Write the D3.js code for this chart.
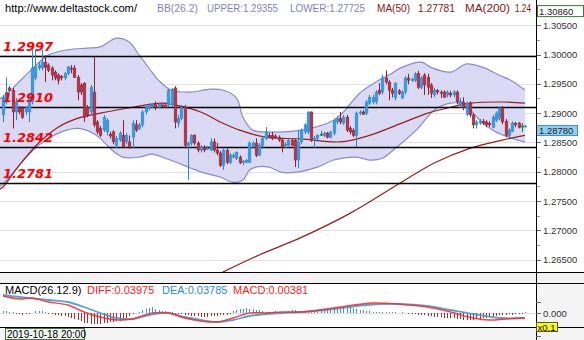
<!DOCTYPE html>
<html><head><meta charset="utf-8">
<script src="https://cdn.jsdelivr.net/npm/d3@7"></script>
<style>body{margin:0;background:#fff}svg{display:block}</style>
</head><body><svg id="c" width="584" height="340"></svg>
<script>
// ---------- DATA ----------
const opens=[1.2897,1.2919,1.2943,1.2939,1.2902,1.2909,1.2909,1.2902,1.2902,1.2919,
1.2960,1.2977,1.2977,1.2987,1.2982,1.2977,1.2970,1.2965,1.2963,1.2960,
1.2968,1.2977,1.2977,1.2961,1.2948,1.2951,1.2910,1.2902,1.2936,1.2885,
1.2874,1.2871,1.2868,1.2864,1.2868,1.2845,1.2854,1.2862,1.2851,1.2851,
1.2859,1.2880,1.2874,1.2880,1.2902,1.2909,1.2912,1.2917,1.2910,1.2914,
1.2914,1.2914,1.2914,1.2943,1.2883,1.2891,1.2910,1.2845,1.2849,1.2862,
1.2849,1.2837,1.2842,1.2839,1.2837,1.2851,1.2837,1.2832,1.2811,1.2837,
1.2816,1.2825,1.2823,1.2825,1.2816,1.2816,1.2816,1.2844,1.2849,1.2828,
1.2845,1.2857,1.2862,1.2862,1.2861,1.2859,1.2854,1.2845,1.2845,1.2854,
1.2854,1.2820,1.2851,1.2868,1.2868,1.2902,1.2854,1.2857,1.2864,1.2862,
1.2866,1.2859,1.2866,1.2885,1.2891,1.2883,1.2893,1.2874,1.2871,1.2862,
1.2900,1.2902,1.2900,1.2917,1.2919,1.2919,1.2939,1.2936,1.2960,1.2953,
1.2939,1.2926,1.2938,1.2926,1.2936,1.2960,1.2956,1.2956,1.2968,1.2944,
1.2965,1.2961,1.2948,1.2931,1.2939,1.2936,1.2936,1.2931,1.2934,1.2931,
1.2936,1.2914,1.2919,1.2898,1.2917,1.2897,1.2880,1.2883,1.2886,1.2885,
1.2883,1.2876,1.2888,1.2891,1.2909,1.2886,1.2862,1.2869,1.2883,1.2883,
1.2878,1.2877];
const highs=[1.2931,1.2961,1.2946,1.2943,1.2926,1.2912,1.2912,1.2912,1.2934,1.3008,
1.3008,1.2987,1.3008,1.2999,1.2985,1.2980,1.2973,1.2968,1.2965,1.2970,
1.2980,1.2982,1.2982,1.2965,1.2951,1.2953,1.2914,1.2948,1.2996,1.2888,
1.2878,1.2897,1.2891,1.2868,1.2871,1.2861,1.2869,1.2888,1.2866,1.2862,
1.2888,1.2888,1.2883,1.2905,1.2914,1.2917,1.2915,1.2920,1.2917,1.2915,
1.2915,1.2941,1.2943,1.2946,1.2897,1.2914,1.2914,1.2851,1.2864,1.2864,
1.2852,1.2845,1.2845,1.2844,1.2857,1.2857,1.2849,1.2835,1.2840,1.2840,
1.2832,1.2832,1.2835,1.2828,1.2820,1.2821,1.2852,1.2852,1.2857,1.2849,
1.2861,1.2876,1.2866,1.2868,1.2864,1.2862,1.2857,1.2851,1.2856,1.2856,
1.2857,1.2871,1.2874,1.2883,1.2903,1.2903,1.2861,1.2864,1.2869,1.2868,
1.2868,1.2869,1.2891,1.2895,1.2902,1.2897,1.2897,1.2878,1.2874,1.2903,
1.2905,1.2905,1.2922,1.2931,1.2931,1.2939,1.2951,1.2965,1.2973,1.2956,
1.2943,1.2953,1.2941,1.2939,1.2963,1.2967,1.2960,1.2970,1.2972,1.2963,
1.2968,1.2967,1.2951,1.2943,1.2941,1.2939,1.2939,1.2939,1.2938,1.2939,
1.2939,1.2926,1.2927,1.2920,1.2920,1.2900,1.2888,1.2890,1.2890,1.2888,
1.2886,1.2897,1.2903,1.2912,1.2912,1.2890,1.2874,1.2886,1.2885,1.2885,
1.2883,1.2880];
const lows=[1.2885,1.2915,1.2936,1.2874,1.2888,1.2898,1.2890,1.2897,1.2885,1.2915,
1.2956,1.2973,1.2973,1.2953,1.2970,1.2956,1.2956,1.2949,1.2956,1.2956,
1.2965,1.2968,1.2960,1.2922,1.2931,1.2885,1.2893,1.2897,1.2876,1.2864,
1.2859,1.2868,1.2862,1.2857,1.2847,1.2840,1.2851,1.2840,1.2847,1.2839,
1.2840,1.2868,1.2871,1.2876,1.2898,1.2905,1.2909,1.2905,1.2909,1.2910,
1.2909,1.2910,1.2910,1.2874,1.2876,1.2888,1.2840,1.2786,1.2845,1.2845,
1.2833,1.2833,1.2833,1.2837,1.2835,1.2833,1.2828,1.2808,1.2803,1.2813,
1.2813,1.2823,1.2820,1.2813,1.2811,1.2815,1.2815,1.2840,1.2825,1.2827,
1.2842,1.2854,1.2857,1.2854,1.2856,1.2851,1.2833,1.2840,1.2844,1.2844,
1.2808,1.2806,1.2847,1.2864,1.2864,1.2851,1.2840,1.2854,1.2861,1.2859,
1.2857,1.2857,1.2862,1.2881,1.2881,1.2880,1.2868,1.2864,1.2859,1.2842,
1.2897,1.2897,1.2897,1.2914,1.2915,1.2915,1.2931,1.2932,1.2949,1.2922,
1.2927,1.2922,1.2931,1.2924,1.2932,1.2949,1.2953,1.2953,1.2941,1.2941,
1.2931,1.2931,1.2926,1.2927,1.2932,1.2926,1.2926,1.2927,1.2927,1.2927,
1.2915,1.2909,1.2905,1.2895,1.2893,1.2874,1.2874,1.2880,1.2880,1.2876,
1.2876,1.2874,1.2885,1.2888,1.2881,1.2859,1.2859,1.2868,1.2876,1.2874,
1.2868,1.2876];
const closes=[1.2927,1.2936,1.2939,1.2902,1.2919,1.2902,1.2893,1.2909,1.2931,1.2977,
1.2979,1.2982,1.2987,1.2978,1.2973,1.2965,1.2960,1.2956,1.2960,1.2968,
1.2979,1.2975,1.2961,1.2936,1.2936,1.2893,1.2897,1.2944,1.2880,1.2868,
1.2862,1.2893,1.2888,1.2861,1.2851,1.2857,1.2866,1.2842,1.2862,1.2842,
1.2883,1.2871,1.2880,1.2902,1.2910,1.2914,1.2914,1.2910,1.2915,1.2912,
1.2910,1.2939,1.2941,1.2885,1.2891,1.2910,1.2845,1.2849,1.2862,1.2849,
1.2837,1.2842,1.2837,1.2840,1.2851,1.2837,1.2832,1.2811,1.2837,1.2816,
1.2828,1.2828,1.2833,1.2815,1.2818,1.2820,1.2849,1.2849,1.2828,1.2845,
1.2857,1.2868,1.2859,1.2857,1.2859,1.2854,1.2842,1.2847,1.2854,1.2845,
1.2820,1.2851,1.2871,1.2880,1.2902,1.2854,1.2857,1.2862,1.2864,1.2866,
1.2859,1.2868,1.2888,1.2891,1.2885,1.2893,1.2871,1.2868,1.2862,1.2900,
1.2902,1.2898,1.2919,1.2927,1.2927,1.2936,1.2934,1.2960,1.2953,1.2939,
1.2934,1.2951,1.2934,1.2936,1.2960,1.2956,1.2958,1.2967,1.2944,1.2960,
1.2948,1.2944,1.2934,1.2939,1.2936,1.2934,1.2927,1.2936,1.2931,1.2936,
1.2919,1.2920,1.2910,1.2917,1.2897,1.2880,1.2885,1.2886,1.2883,1.2880,
1.2880,1.2893,1.2900,1.2909,1.2885,1.2862,1.2871,1.2883,1.2880,1.2876,
1.2878,1.2878];

// Bollinger bands (read at candle indices)
const upperIdx=[-1,0,4,8,14,20,26,30,35,39,42,45,48,52,58,64,68,72,74,77,81,92,102,105,110,115,119,123,129,132,138,143,148,153,157,161];
const upperBand=[1.2924,1.2927,1.2948,1.2970,1.2999,1.3008,1.3011,1.3013,1.3028,1.3021,1.2999,1.2977,1.2956,1.2939,1.2936,1.2941,1.2939,1.2926,1.2893,1.2871,1.2868,1.2871,1.2888,1.2902,1.2934,1.2953,1.2965,1.2978,1.2987,1.2978,1.2970,1.2984,1.2978,1.2965,1.2955,1.2939];
const lowerIdx=[-1,0,5,11,18,23,27,30,33,37,42,46,50,54,58,62,67,71,74,76,78,82,86,90,97,102,109,113,117,121,123,128,133,138,142,145,148,152,157,161];
const lowerBand=[1.2775,1.2779,1.2811,1.2845,1.2868,1.2874,1.2868,1.2857,1.2840,1.2825,1.2825,1.2830,1.2823,1.2815,1.2806,1.2798,1.2791,1.2782,1.2786,1.2803,1.2808,1.2808,1.2799,1.2799,1.2808,1.2820,1.2825,1.2820,1.2823,1.2840,1.2849,1.2874,1.2905,1.2917,1.2915,1.2900,1.2883,1.2868,1.2857,1.2851];

// Moving averages
const ma50Idx=[-1,0,5,11,17,23,30,40,49,53,61,67,73,81,92,104,113,123,131,138,144,154,161];
const ma50=[1.2770,1.2774,1.2811,1.2849,1.2876,1.2891,1.2900,1.2910,1.2917,1.2914,1.2902,1.2885,1.2871,1.2859,1.2856,1.2851,1.2862,1.2883,1.2900,1.2910,1.2917,1.2919,1.2917];
const ma200Idx=[66,79,92,107,122,133,144,154,161];
const ma200=[1.2624,1.2658,1.2688,1.2729,1.2779,1.2815,1.2840,1.2854,1.2862];

// Horizontal levels
const levels=[1.2997,1.2910,1.2842,1.2781];
const priceTicks=[1.265,1.270,1.275,1.280,1.285,1.290,1.295,1.300,1.305];
const topPrice=1.30860, lastPrice=1.28780;

// MACD
const macdHist=[0.0002,0.0002,0.0001,0.0001,-0.0001,-0.0001,-0.0002,-0.0001,-0.0001,0,
0.0002,0.0002,0.0002,0.0001,-0.0001,-0.0001,-0.0002,-0.0002,-0.0003,-0.0003,
-0.0004,-0.0005,-0.0006,-0.0007,-0.0008,-0.0010,-0.0010,-0.0011,-0.0011,-0.0011,
-0.0011,-0.0010,-0.0010,-0.0009,-0.0009,-0.0008,-0.0008,-0.0007,-0.0005,-0.0003,
-0.0001,0,0.0001,0.0003,0.0004,0.0005,0.0006,0.0004,0.0003,0.0002,
0.0002,0.0001,0.0001,-0.0001,-0.0001,-0.0001,-0.0002,-0.0002,-0.0003,-0.0003,
-0.0003,-0.0004,-0.0004,-0.0004,-0.0003,-0.0003,-0.0003,-0.0002,-0.0002,-0.0002,
-0.0001,0.0002,0.0003,0.0004,0.0004,0.0005,0.0004,0.0004,0.0003,0.0003,
0.0002,0.0001,0.0001,0.0001,0.0002,0.0001,0.0001,0.0001,0.0002,0.0003,
0.0003,0.0002,0.0002,0.0002,0.0002,0.0002,0.0003,0.0003,0.0003,0.0003,
0.0003,0.0004,0.0004,0.0004,0.0004,0.0005,0.0005,0.0005,0.0005,0.0004,
0.0003,0.0003,0.0002,0.0002,0.0001,0.0001,0.0001,0.0001,0.0001,0.0001,
0.0001,0.0001,0,0.0001,0,-0.0001,-0.0001,-0.0001,-0.0002,-0.0002,
-0.0002,-0.0003,-0.0003,-0.0004,-0.0004,-0.0004,-0.0005,-0.0005,-0.0005,-0.0005,
-0.0006,-0.0006,-0.0007,-0.0007,-0.0007,-0.0007,-0.0006,-0.0006,-0.0005,-0.0005,
-0.0004,-0.0004,-0.0003,-0.0002,-0.0002,-0.0002,-0.0001,-0.0002,-0.0001,-0.0001,
-0.0001,0.0001];
const diffIdx=[0,5,9,14,20,25,30,35,40,46,51,56,61,66,71,76,81,86,92,102,114,122,131,138,145,150,155,161];
const diffVals=[0.0017,0.0014,0.0015,0.0011,0.0008,0.0001,-0.0004,-0.0007,-0.0006,0,0,-0.0005,-0.0008,-0.0009,-0.0005,0,0,0.0001,0.0001,0.0005,0.0010,0.0009,0.0006,0.0001,-0.0005,-0.0007,-0.0006,-0.0005];
const deaIdx=[0,5,14,20,25,30,35,40,45,51,56,61,66,71,76,81,86,92,102,112,122,131,138,145,153,161];
const deaVals=[0.0018,0.0016,0.0013,0.0011,0.0006,0,-0.0005,-0.0006,-0.0002,0,-0.0004,-0.0007,-0.0009,-0.0007,-0.0003,-0.0001,0,0.0001,0.0004,0.0008,0.0009,0.0007,0.0003,-0.0001,-0.0005,-0.0005];
const macdTicks=[0.0011,0,-0.0023];

// header texts: [text, colour, width]
const headerItems=[
  ['http://www.deltastock.com/','#000',132],
  ['BB(26.2)','#7f7fc6',41],
  ['UPPER:1.29355','#7f7fc6',71],
  ['LOWER:1.27725','#7f7fc6',75],
  ['MA(50)','#8b1414',33],
  ['1.27781','#8b1414',37],
  ['MA(200)','#8b1414',45],
  ['1.24','#8b1414',16]];
const headerX=[5,157,207,290,377,418,465,515];

// ---------- DRAW ----------
const n=closes.length;
const svg=d3.select('#c');
const PR=536; // plot right
const xS=d3.scaleLinear().domain([0,n-1]).range([3,525]);
const yP=d3.scaleLinear().domain([1.2629,1.3093]).range([272,0]);
const yM=d3.scaleLinear().domain([-0.0014,0.0030]).range([327,283]);
const sans='"Liberation Sans", Arial, sans-serif';

const defs=svg.append('defs');
defs.append('clipPath').attr('id','pc').append('rect').attr('x',0).attr('y',0).attr('width',PR).attr('height',272);
defs.append('clipPath').attr('id','mc').append('rect').attr('x',0).attr('y',283).attr('width',PR).attr('height',44);

svg.append('rect').attr('width',584).attr('height',340).attr('fill','#fff');

// price panel
const gp=svg.append('g').attr('clip-path','url(#pc)');
gp.selectAll('line.grid').data(priceTicks).join('line').attr('class','grid')
  .attr('x1',0).attr('x2',PR).attr('y1',d=>Math.round(yP(d))+0.5).attr('y2',d=>Math.round(yP(d))+0.5)
  .attr('stroke','#e2e2e2').attr('stroke-width',1);

const curve=d3.curveCatmullRom.alpha(0.5);
const lg=d3.line().curve(curve);
const upPts=upperIdx.map((d,k)=>[xS(d),yP(upperBand[k])]);
const loPts=lowerIdx.map((d,k)=>[xS(d),yP(lowerBand[k])]);
const dUp=lg(upPts), dLo=lg(loPts), dLoR=lg(loPts.slice().reverse());
gp.append('path').attr('d',dUp+'L'+dLoR.slice(1)+'Z').attr('fill','#dadaf5').attr('stroke','none');
gp.append('path').attr('d',dUp).attr('fill','none').attr('stroke','#8a8ad0').attr('stroke-width',1.2);
gp.append('path').attr('d',dLo).attr('fill','none').attr('stroke','#8a8ad0').attr('stroke-width',1.2);

gp.append('path').attr('d',lg(ma50Idx.map((d,k)=>[xS(d),yP(ma50[k])]))).attr('fill','none').attr('stroke','#9b1c1c').attr('stroke-width',1.2);
gp.append('path').attr('d',lg(ma200Idx.map((d,k)=>[xS(d),yP(ma200[k])]))).attr('fill','none').attr('stroke','#9b1c1c').attr('stroke-width',1.2);

gp.selectAll('line.lvl').data(levels).join('line').attr('class','lvl')
  .attr('x1',0).attr('x2',PR).attr('y1',d=>Math.round(yP(d))+0.5).attr('y2',d=>Math.round(yP(d))+0.5)
  .attr('stroke','#000').attr('stroke-width',1.3);

// candles
const idx=d3.range(n);
const col=i=>closes[i]>opens[i]?'#3a9ae0':(closes[i]<opens[i]?'#b3364a':'#2e8b3e');
const wcol=i=>closes[i]>opens[i]?'#2a86cc':(closes[i]<opens[i]?'#8e1f30':'#1f7a2e');
const cg=gp.append('g');
cg.selectAll('line').data(idx).join('line')
  .attr('x1',i=>Math.round(xS(i))+0.5).attr('x2',i=>Math.round(xS(i))+0.5)
  .attr('y1',i=>yP(highs[i])).attr('y2',i=>yP(lows[i])).attr('stroke',wcol).attr('stroke-width',1);
cg.selectAll('rect').data(idx).join('rect')
  .attr('x',i=>Math.round(xS(i))-0.9).attr('width',2.8)
  .attr('y',i=>yP(Math.max(opens[i],closes[i])))
  .attr('height',i=>Math.max(1,Math.abs(yP(opens[i])-yP(closes[i]))))
  .attr('fill',col).attr('stroke',wcol).attr('stroke-width',0.4);

// level labels
svg.selectAll('text.lvl').data(levels).join('text').attr('class','lvl')
  .attr('x',3).attr('y',d=>Math.round(yP(d))-5).text(d=>d.toFixed(4))
  .attr('fill','#ff0000').attr('font-family','"DejaVu Sans", Verdana, sans-serif')
  .attr('font-weight','bold').attr('font-style','italic').attr('font-size',13);

// header
const hg=svg.append('g').attr('font-family',sans).attr('font-size',11);
hg.selectAll('text').data(headerItems).join('text')
  .attr('x',(d,k)=>headerX[k]).attr('y',12).attr('fill',d=>d[1])
  .attr('textLength',d=>d[2]).attr('lengthAdjust','spacingAndGlyphs').text(d=>d[0]);

// right price axis
const ax=svg.append('g').attr('font-family',sans).attr('font-size',9.5).attr('fill','#333');
ax.selectAll('line.mj').data(priceTicks).join('line').attr('class','mj')
  .attr('x1',PR).attr('x2',PR+5).attr('y1',d=>Math.round(yP(d))+0.5).attr('y2',d=>Math.round(yP(d))+0.5).attr('stroke','#666');
ax.selectAll('line.mn').data(priceTicks).join('line').attr('class','mn')
  .attr('x1',PR).attr('x2',PR+4).attr('y1',d=>Math.round(yP(d+0.0025))+0.5).attr('y2',d=>Math.round(yP(d+0.0025))+0.5).attr('stroke','#999');
ax.selectAll('text').data(priceTicks).join('text')
  .attr('x',PR+7).attr('y',d=>yP(d)+3.5).text(d=>d.toFixed(5));
// top & last price boxes
svg.append('rect').attr('x',PR+1.5).attr('y',yP(topPrice)+1.5).attr('width',46).attr('height',11).attr('fill','#fff').attr('stroke','#2f7f2f');
svg.append('text').attr('x',PR+3).attr('y',yP(topPrice)+10.5).attr('font-family',sans).attr('font-size',9.5).attr('fill','#222').text(topPrice.toFixed(5));
svg.append('rect').attr('x',PR+0.5).attr('y',yP(lastPrice)-0.5).attr('width',41).attr('height',10).attr('fill','#8ccff3').attr('stroke','#3a8fd0');
svg.append('text').attr('x',PR+3).attr('y',yP(lastPrice)+7.8).attr('font-family',sans).attr('font-size',9.5).attr('fill','#222').text(lastPrice.toFixed(5));

// separators
svg.append('rect').attr('x',0).attr('y',273).attr('width',584).attr('height',10).attr('fill','#f3f3f3');
svg.append('rect').attr('x',0).attr('y',328).attr('width',584).attr('height',12).attr('fill','#f3f3f3');
svg.append('rect').attr('x',PR+1).attr('y',283).attr('width',584-PR-1).attr('height',44).attr('fill','#f4f4f4');
[272.5,283.5,327.5].forEach(y=>svg.append('line').attr('x1',0).attr('x2',584).attr('y1',y).attr('y2',y).attr('stroke','#000'));
svg.append('line').attr('x1',PR+0.5).attr('x2',PR+0.5).attr('y1',0).attr('y2',340).attr('stroke','#000');

// MACD panel
const gm=svg.append('g').attr('clip-path','url(#mc)');
gm.append('line').attr('x1',0).attr('x2',PR).attr('y1',Math.round(yM(0))+0.5).attr('y2',Math.round(yM(0))+0.5).attr('stroke','#dedede');
gm.selectAll('line.h').data(idx).join('line').attr('class','h')
  .attr('x1',i=>Math.round(xS(i))+0.5).attr('x2',i=>Math.round(xS(i))+0.5)
  .attr('y1',yM(0)).attr('y2',i=>yM(macdHist[i]))
  .attr('stroke',i=>macdHist[i]>=0?'#3a95d5':'#b02a2a').attr('stroke-width',1);
gm.append('path').attr('d',lg(deaIdx.map((d,k)=>[xS(d),yM(deaVals[k])]))).attr('fill','none').attr('stroke','#3d9ad6').attr('stroke-width',1.8).attr('opacity',0.9);
gm.append('path').attr('d',lg(diffIdx.map((d,k)=>[xS(d),yM(diffVals[k])]))).attr('fill','none').attr('stroke','#ff2a2a').attr('stroke-width',1.5).attr('opacity',0.9);

const mt=svg.append('g').attr('font-family',sans).attr('font-size',11);
mt.append('text').attr('x',5).attr('y',294).attr('fill','#000').text('MACD(26.12.9)');
mt.append('text').attr('x',87).attr('y',294).attr('fill','#ff2020').text('DIFF:0.03975');
mt.append('text').attr('x',162).attr('y',294).attr('fill','#2a8ad6').text('DEA:0.03785');
mt.append('text').attr('x',233).attr('y',294).attr('fill','#ff2020').text('MACD:0.00381');

svg.selectAll('line.mt').data(macdTicks).join('line').attr('class','mt')
  .attr('x1',PR).attr('x2',PR+5).attr('y1',d=>Math.round(yM(d))+0.5).attr('y2',d=>Math.round(yM(d))+0.5).attr('stroke','#666');
svg.append('text').attr('x',PR+7).attr('y',yM(0)+3.5).attr('font-family',sans).attr('font-size',9.5).attr('fill','#333').text('0.000');
svg.append('rect').attr('x',PR+0.5).attr('y',322.5).attr('width',21).attr('height',9).attr('fill','#ffff00').attr('stroke','#555');
svg.append('text').attr('x',PR+1.5).attr('y',330.5).attr('font-family',sans).attr('font-size',9.5).attr('fill','#000').text('x0.1');

// date box
svg.append('rect').attr('x',5.5).attr('y',328.5).attr('width',79).attr('height',11).attr('fill','#f3f3f3').attr('stroke','#3c783c');
svg.append('text').attr('x',7).attr('y',337.5).attr('font-family',sans).attr('font-size',10).attr('fill','#000').text('2019-10-18 20:00');
</script></body></html>
